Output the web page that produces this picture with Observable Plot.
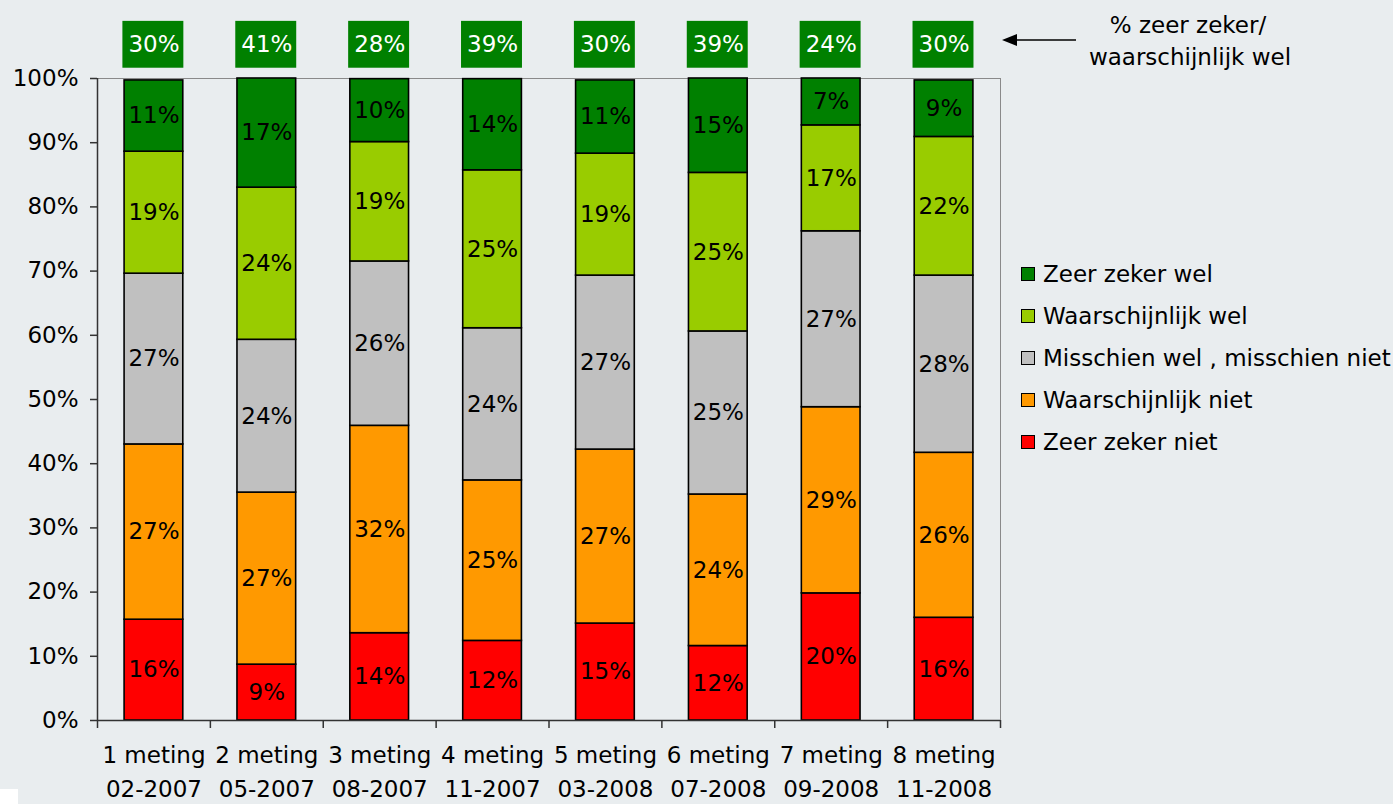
<!DOCTYPE html>
<html><head><meta charset="utf-8">
<script src="https://cdn.jsdelivr.net/npm/d3@7"></script>
<script src="https://cdn.jsdelivr.net/npm/@observablehq/plot@0.6"></script>
<style>
html,body{margin:0;padding:0;background:#e9edef;}
#wrap{position:relative;width:1393px;height:804px;overflow:hidden;font-family:"DejaVu Sans",Verdana,sans-serif;}
#wrap svg.plot{position:absolute;left:0;top:0;}
.legend{position:absolute;left:1021px;top:253px;font-size:23px;color:#000;}
.legend .row{height:42px;display:flex;align-items:center;white-space:nowrap;}
.legend .sw{width:12px;height:12px;border:1px solid #000;margin-right:8px;flex:none;}
#note{position:absolute;left:0;top:0;}
#corner{position:absolute;left:0;top:789px;width:18px;height:15px;background:#fff;}
</style></head><body><div id="wrap"></div>
<script>
// ---- data ----
const categories = ["1 meting\n02-2007","2 meting\n05-2007","3 meting\n08-2007","4 meting\n11-2007","5 meting\n03-2008","6 meting\n07-2008","7 meting\n09-2008","8 meting\n11-2008"];
const series = ["Zeer zeker niet","Waarschijnlijk niet","Misschien wel , misschien niet","Waarschijnlijk wel","Zeer zeker wel"];
const seriesColors = ["#ff0000","#ff9900","#c0c0c0","#99cc00","#008000"];
const zeerZekerNiet      = [15.7, 8.7, 13.6, 12.4, 15.1, 11.6, 19.8, 16.0];
const waarschijnlijkNiet = [27.3, 26.8, 32.3, 25.0, 27.1, 23.6, 29.0, 25.7];
const misschien          = [26.6, 23.8, 25.6, 23.7, 27.1, 25.4, 27.4, 27.6];
const waarschijnlijkWel  = [19.0, 23.7, 18.6, 24.6, 19.0, 24.7, 16.5, 21.6];
const zeerZekerWel       = [11.1, 17.0, 9.8, 14.2, 11.4, 14.7, 7.3, 8.8];
const yTicks = [0,10,20,30,40,50,60,70,80,90,100];
const noteText = ["% zeer zeker/","waarschijnlijk wel"];

// ---- build tables ----
const seriesValues = [zeerZekerNiet, waarschijnlijkNiet, misschien, waarschijnlijkWel, zeerZekerWel];
const rows = [];
categories.forEach((c, i) => {
  let acc = 0;
  seriesValues.forEach((vals, k) => {
    const v = vals[i];
    rows.push({i, series: series[k], v, y1: acc, y2: acc + v});
    acc += v;
  });
});
const tops = categories.map((c, i) => ({i, v: waarschijnlijkWel[i] + zeerZekerWel[i]}));

const FONT = "DejaVu Sans, Verdana, sans-serif";
const chart = Plot.plot({
  width: 1393, height: 804,
  marginLeft: 97, marginRight: 393, marginTop: 78, marginBottom: 84,
  style: {fontFamily: FONT, fontSize: "23px", background: "transparent", color: "#000", overflow: "visible"},
  x: {type: "linear", domain: [0, categories.length], axis: null},
  y: {domain: [0, 100], axis: null},
  color: {domain: series, range: seriesColors},
  marks: [
    Plot.frame({stroke: "#8a8a8a", strokeWidth: 1}),
    Plot.axisY({ticks: yTicks, tickFormat: d => d + "%", tickSize: 7, tickPadding: 12, fontSize: 23, stroke: "#333", strokeWidth: 1.5, label: null}),
    Plot.axisX({ticks: d3.range(0, categories.length + 1), tickFormat: () => "", tickSize: 8, stroke: "#333", strokeWidth: 1.5, label: null}),
    Plot.rect(rows, {x1: d => d.i + 0.24, x2: d => d.i + 0.76, y1: "y1", y2: "y2", fill: "series", stroke: "#000", strokeWidth: 1.6}),
    Plot.text(rows, {x: d => d.i + 0.5, y: d => (d.y1 + d.y2) / 2, text: d => Math.round(d.v) + "%", fontSize: 23, fill: "#000"}),
    Plot.ruleY([0], {stroke: "#333", strokeWidth: 1.5}),
    Plot.ruleX([0], {stroke: "#333", strokeWidth: 1.5}),
    Plot.rect(tops, {x1: d => d.i + 0.225, x2: d => d.i + 0.765, y1: 101.6, y2: 108.9, fill: "#008000"}),
    Plot.text(tops, {x: d => d.i + 0.5, y: 105.2, text: d => Math.round(d.v) + "%", fill: "#fff", fontSize: 23}),
    Plot.text(categories, {x: (d, i) => i + 0.5, y: 0, text: d => d, dy: 19, lineAnchor: "top", lineHeight: 1.45, fontSize: 23, fill: "#000"})
  ]
});
chart.classList.add("plot");
const wrap = document.getElementById("wrap");
wrap.appendChild(chart);

// legend
const legend = document.createElement("div");
legend.className = "legend";
series.slice().reverse().forEach((s) => {
  const k = series.indexOf(s);
  const row = document.createElement("div");
  row.className = "row";
  const sw = document.createElement("span");
  sw.className = "sw";
  sw.style.background = seriesColors[k];
  const t = document.createElement("span");
  t.textContent = s;
  row.appendChild(sw); row.appendChild(t);
  legend.appendChild(row);
});
wrap.appendChild(legend);

// arrow note
const ns = "http://www.w3.org/2000/svg";
const note = document.createElementNS(ns, "svg");
note.setAttribute("id", "note");
note.setAttribute("width", 1393); note.setAttribute("height", 100);
note.innerHTML = `<line x1="1076" y1="40" x2="1012" y2="40" stroke="#000" stroke-width="1.5"/>
<polygon points="1002,40 1017,34 1017,46" fill="#000"/>
<text x="1188" y="33" text-anchor="middle" font-family="${FONT}" font-size="23">${noteText[0]}</text>
<text x="1190" y="65" text-anchor="middle" font-family="${FONT}" font-size="23">${noteText[1]}</text>`;
wrap.appendChild(note);
const corner = document.createElement("div");
corner.id = "corner";
wrap.appendChild(corner);
</script></body></html>
